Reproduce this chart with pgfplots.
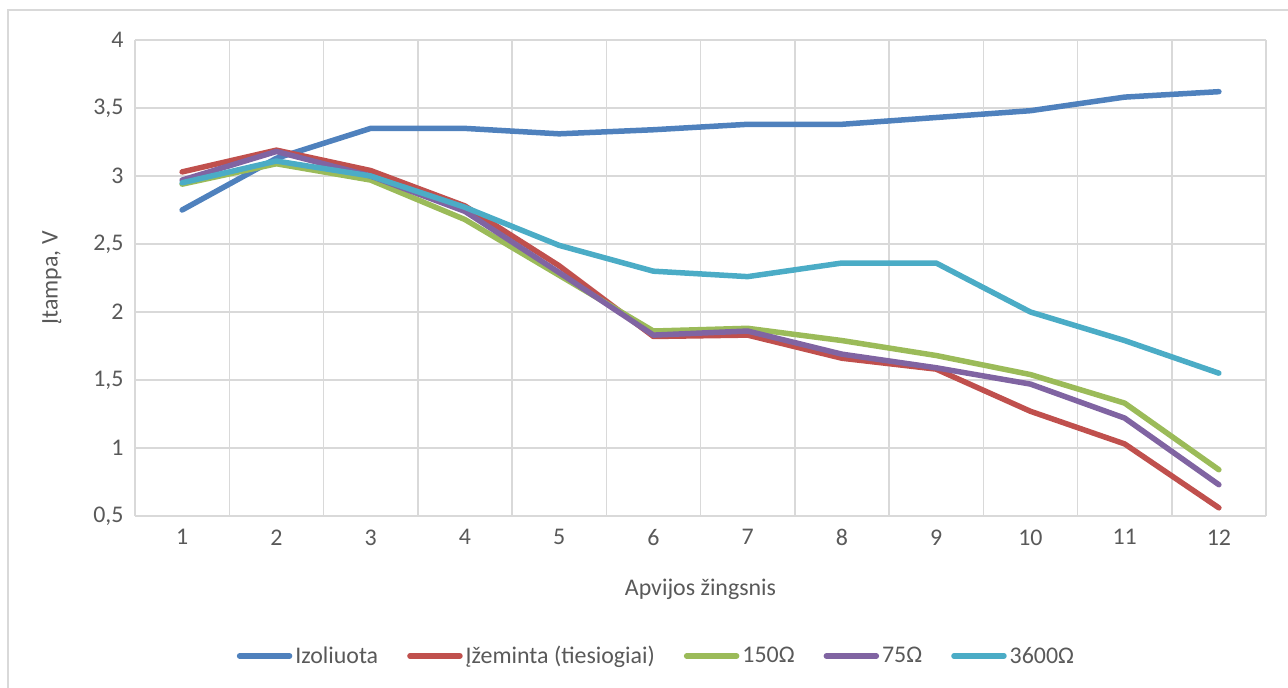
\documentclass[border=0pt]{standalone}
\usepackage{pgfplots}
\pgfplotsset{compat=1.18}
\usepackage{fontspec}
\setmainfont{Carlito}

\definecolor{sIzol}{HTML}{4F81BD}
\definecolor{sZem}{HTML}{C0504D}
\definecolor{sR150}{HTML}{9BBB59}
\definecolor{sR75}{HTML}{8064A2}
\definecolor{sR3600}{HTML}{4BACC6}
\definecolor{txtgray}{HTML}{595959}
\definecolor{gridgray}{HTML}{D9D9D9}

\newcommand{\chartfont}{\fontsize{24}{28}\selectfont}

\begin{document}
\begin{tikzpicture}[x=1bp,y=1bp]
\useasboundingbox (0,0) rectangle (1288,688);
% chart frame
\draw[gridgray, line width=1.5bp] (8,-10) -- (8,678) -- (1300,678);
\begin{axis}[
  at={(135bp,172bp)}, anchor=south west,
  scale only axis, width=1131bp, height=476bp,
  xmin=0.5, xmax=12.5, ymin=0.5, ymax=4,
  xtick={1,2,3,4,5,6,7,8,9,10,11,12},
  minor xtick={0.5,1.5,2.5,3.5,4.5,5.5,6.5,7.5,8.5,9.5,10.5,11.5,12.5},
  ytick={0.5,1,1.5,2,2.5,3,3.5,4},
  xmajorgrids=false, xminorgrids=true, ymajorgrids=true,
  grid style={gridgray, line width=1.5bp},
  minor grid style={gridgray, line width=1.5bp},
  axis line style={draw=none},
  major tick length=0pt, minor tick length=0pt,
  /pgf/number format/assume math mode=true,
  /pgf/number format/use comma,
  /pgf/number format/fixed,
  tick label style={font=\chartfont, text=txtgray},
  xticklabel style={yshift=-10bp},
  yticklabel style={xshift=-8bp},
  xlabel={Apvijos žingsnis},
  ylabel={Įtampa, V},
  label style={font=\chartfont, text=txtgray},
  xlabel style={at={(0.5,-0.155)}, anchor=center},
  ylabel style={at={(-0.0734,0.5)}, anchor=center},
  legend columns=5,
  legend style={at={(0.4615,-0.294)}, anchor=center, draw=none, fill=none,
    font=\chartfont, text=txtgray,
    nodes={inner sep=3bp},
    /tikz/every even column/.append style={column sep=26bp}},
  legend cell align=left,
  legend image code/.code={\draw[line width=5.5bp, line cap=round] (0bp,0bp) -- (50bp,0bp);},
  every axis plot/.append style={line width=5.5bp, line join=round, line cap=round, mark=none},
]
\addplot[sIzol] coordinates {
  (1,2.75) (2,3.13) (3,3.35) (4,3.35) (5,3.31) (6,3.34)
  (7,3.38) (8,3.38) (9,3.43) (10,3.48) (11,3.58) (12,3.62)};
\addlegendentry{Izoliuota}
\addplot[sZem] coordinates {
  (1,3.03) (2,3.19) (3,3.04) (4,2.78) (5,2.34) (6,1.82)
  (7,1.83) (8,1.66) (9,1.58) (10,1.27) (11,1.03) (12,0.56)};
\addlegendentry{Įžeminta (tiesiogiai)}
\addplot[sR150] coordinates {
  (1,2.94) (2,3.09) (3,2.97) (4,2.68) (5,2.27) (6,1.86)
  (7,1.88) (8,1.79) (9,1.68) (10,1.54) (11,1.33) (12,0.84)};
\addlegendentry{150Ω}
\addplot[sR75] coordinates {
  (1,2.97) (2,3.18) (3,3.00) (4,2.74) (5,2.29) (6,1.83)
  (7,1.86) (8,1.69) (9,1.59) (10,1.47) (11,1.22) (12,0.73)};
\addlegendentry{75Ω}
\addplot[sR3600] coordinates {
  (1,2.95) (2,3.11) (3,3.00) (4,2.77) (5,2.49) (6,2.30)
  (7,2.26) (8,2.36) (9,2.36) (10,2.00) (11,1.79) (12,1.55)};
\addlegendentry{3600Ω}
\end{axis}
\end{tikzpicture}
\end{document}
